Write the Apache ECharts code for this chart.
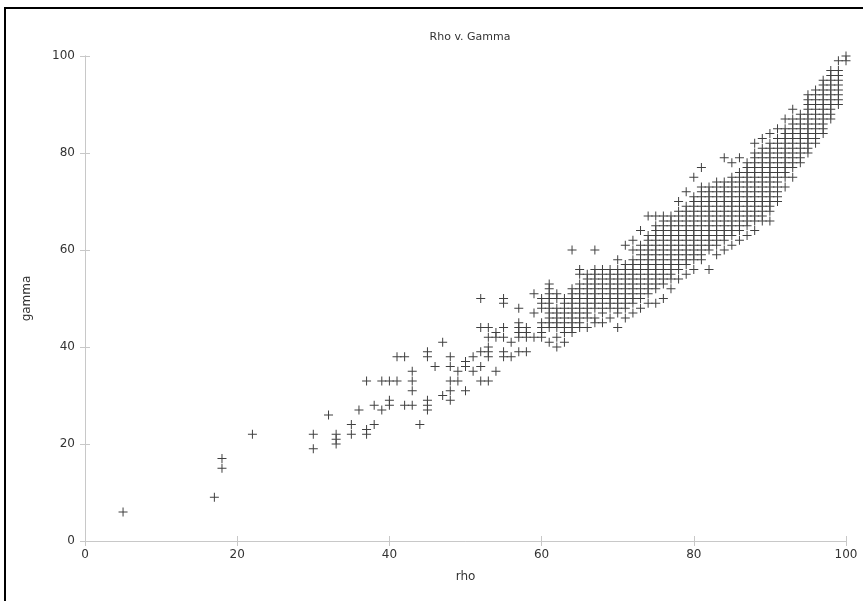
<!DOCTYPE html>
<html>
<head>
<meta charset="utf-8">
<script src="https://cdn.jsdelivr.net/npm/echarts@6/dist/echarts.min.js"></script>
<style>
html,body{margin:0;padding:0;background:#fff;}
#chart{width:867px;height:601px;}
</style>
</head>
<body>
<div id="chart"></div>
<script>
const titleText = 'Rho v. Gamma';
const xName = 'rho';
const yName = 'gamma';
const tickValues = [0, 20, 40, 60, 80, 100];

// sparse region (rho < 60)
const sparseRho =   [5,17,18,18,22,30,30,32,33,33,33,35,35,36,37,37,37,38,38,39,39,40,40,40,41,41,42,42,43,43,43,43,44,45,45,45,45,45,46,47,47,48,48,48,48,48,49,49,50,50,50,51,51,52,52,52,52,52,53,53,53,53,53,53,54,54,54,55,55,55,55,55,55,56,56,57,57,57,57,57,57,58,58,58,58,59,59,59];
const sparseGamma = [6, 9,17,15,22,22,19,26,22,21,20,24,22,27,33,23,22,28,24,33,27,33,29,28,38,33,38,28,35,33,31,28,24,39,38,29,28,27,36,41,30,38,36,33,31,29,35,33,37,36,31,38,35,50,44,39,36,33,44,42,40,39,38,33,43,42,35,50,49,44,42,39,38,41,38,48,45,44,43,42,39,44,43,42,39,51,47,42];

// dense region: rho columns and the gamma values found in each
const denseRho = [60,61,62,63,64,65,66,67,68,69,70,71,72,73,74,75,76,77,78,79,80,81,82,83,84,85,86,87,88,89,90,91,92,93,94,95,96,97,98,99,100];
const denseGamma = [
  [42,43,44,45,48,49,50],
  [41,44,45,46,47,48,49,50,51,52,53],
  [40,42,44,45,46,47,48,50,51],
  [41,43,44,45,46,47,48,49,50],
  [43,44,45,46,47,48,49,50,51,52,60],
  [44,45,46,47,48,49,50,51,52,53,55,56],
  [44,46,47,48,49,50,51,52,53,54,55],
  [45,46,48,49,50,51,52,53,54,55,56,60],
  [45,47,48,49,50,51,52,53,54,55,56],
  [46,48,49,50,51,52,53,54,55,56],
  [44,47,48,49,50,51,52,53,54,55,56,58],
  [46,48,49,50,51,52,53,54,55,56,57,61],
  [47,49,50,51,52,53,54,55,56,57,58,60,62],
  [48,50,51,52,53,54,55,56,57,58,59,60,61,64],
  [49,51,52,53,54,55,56,57,58,59,60,61,62,63,67],
  [49,52,53,54,55,56,57,58,59,60,61,62,63,64,65,67],
  [50,53,54,55,56,57,58,59,60,61,62,63,64,65,66,67],
  [52,54,55,56,57,58,59,60,61,62,63,64,65,66,67],
  [54,56,57,58,59,60,61,62,63,64,65,66,67,68,70],
  [55,57,58,59,60,61,62,63,64,65,66,67,68,69,72],
  [56,58,59,60,61,62,63,64,65,66,67,68,69,70,71,75],
  [58,59,60,61,62,63,64,65,66,67,68,69,70,71,72,73,77],
  [56,60,61,62,63,64,65,66,67,68,69,70,71,72,73],
  [59,61,62,63,64,65,66,67,68,69,70,71,72,73,74],
  [60,62,63,64,65,66,67,68,69,70,71,72,73,74,79],
  [61,63,64,65,66,67,68,69,70,71,72,73,74,75,78],
  [62,64,65,66,67,68,69,70,71,72,73,74,75,76,79],
  [63,65,66,67,68,69,70,71,72,73,74,75,76,77,78],
  [64,66,67,68,69,70,71,72,73,74,75,76,77,78,79,80,82],
  [66,67,68,69,70,71,72,73,74,75,76,77,78,79,80,81,83],
  [66,68,69,70,71,72,73,74,75,76,77,78,79,80,81,82,84],
  [70,71,72,73,74,75,76,77,78,79,80,81,82,83,85],
  [73,75,76,77,78,79,80,81,82,83,84,85,87],
  [75,77,78,79,80,81,82,83,84,85,86,87,89],
  [78,79,80,81,82,83,84,85,86,87,88],
  [80,81,82,83,84,85,86,87,88,89,90,91,92],
  [82,83,84,85,86,87,88,89,90,91,92,93],
  [84,85,86,87,88,89,90,91,92,93,94,95],
  [87,88,89,90,91,92,93,94,95,96,97],
  [90,91,92,93,94,95,96,97,99],
  [99,100]
];

const points = [];
for (let i = 0; i < sparseRho.length; i++) points.push([sparseRho[i], sparseGamma[i]]);
for (let i = 0; i < denseRho.length; i++) {
  for (const g of denseGamma[i]) points.push([denseRho[i], g]);
}

const chart = echarts.init(document.getElementById('chart'), null, {renderer: 'canvas'});
const plus = 'path://M4,0h1v4h4v1h-4v4h-1v-4h-4v-1h4z';
const gridLine = '#c8c8c8';
const txt = '#333';
const baseAxis = {
  type: 'value', min: 0, max: 100, interval: 20,
  splitLine: {show: false},
  axisLine: {show: true, lineStyle: {color: gridLine, width: 1}},
  axisTick: {show: true, inside: true, length: 5, lineStyle: {color: gridLine}},
};
chart.setOption({
  animation: false,
  backgroundColor: '#fff',
  title: {
    text: titleText, left: 465, top: 27, textAlign: 'center',
    textStyle: {fontFamily: 'DejaVu Sans', fontSize: 11, fontWeight: 'normal', color: txt}
  },
  grid: {left: 85, right: 21, top: 56, bottom: 60, containLabel: false},
  xAxis: [
    Object.assign({}, baseAxis, {
      position: 'bottom', name: xName, nameLocation: 'middle', nameGap: 30,
      nameTextStyle: {fontFamily: 'DejaVu Sans', fontSize: 12, color: txt},
      axisLabel: {fontFamily: 'DejaVu Sans', fontSize: 12, color: txt, margin: 8,
        formatter: v => tickValues.includes(v) ? String(v) : ''}
    }),
    Object.assign({}, baseAxis, {position: 'top', axisLabel: {show: false}})
  ],
  yAxis: [
    Object.assign({}, baseAxis, {
      position: 'left', name: yName, nameLocation: 'middle', nameGap: 52,
      nameTextStyle: {fontFamily: 'DejaVu Sans', fontSize: 12, color: txt},
      axisLabel: {fontFamily: 'DejaVu Sans', fontSize: 12, color: txt, margin: 10,
        formatter: v => tickValues.includes(v) ? String(v) : ''}
    }),
    Object.assign({}, baseAxis, {position: 'right', axisLabel: {show: false}})
  ],
  series: [{
    type: 'scatter', xAxisIndex: 0, yAxisIndex: 0,
    data: points, symbol: plus, symbolSize: 9,
    itemStyle: {color: '#404040', opacity: 1}
  }],
  graphic: [
    {type: 'rect', shape: {x: 4, y: 7, width: 2, height: 594}, style: {fill: '#000'}},
    {type: 'rect', shape: {x: 4, y: 7, width: 859, height: 2}, style: {fill: '#000'}}
  ]
});
</script>
</body>
</html>
